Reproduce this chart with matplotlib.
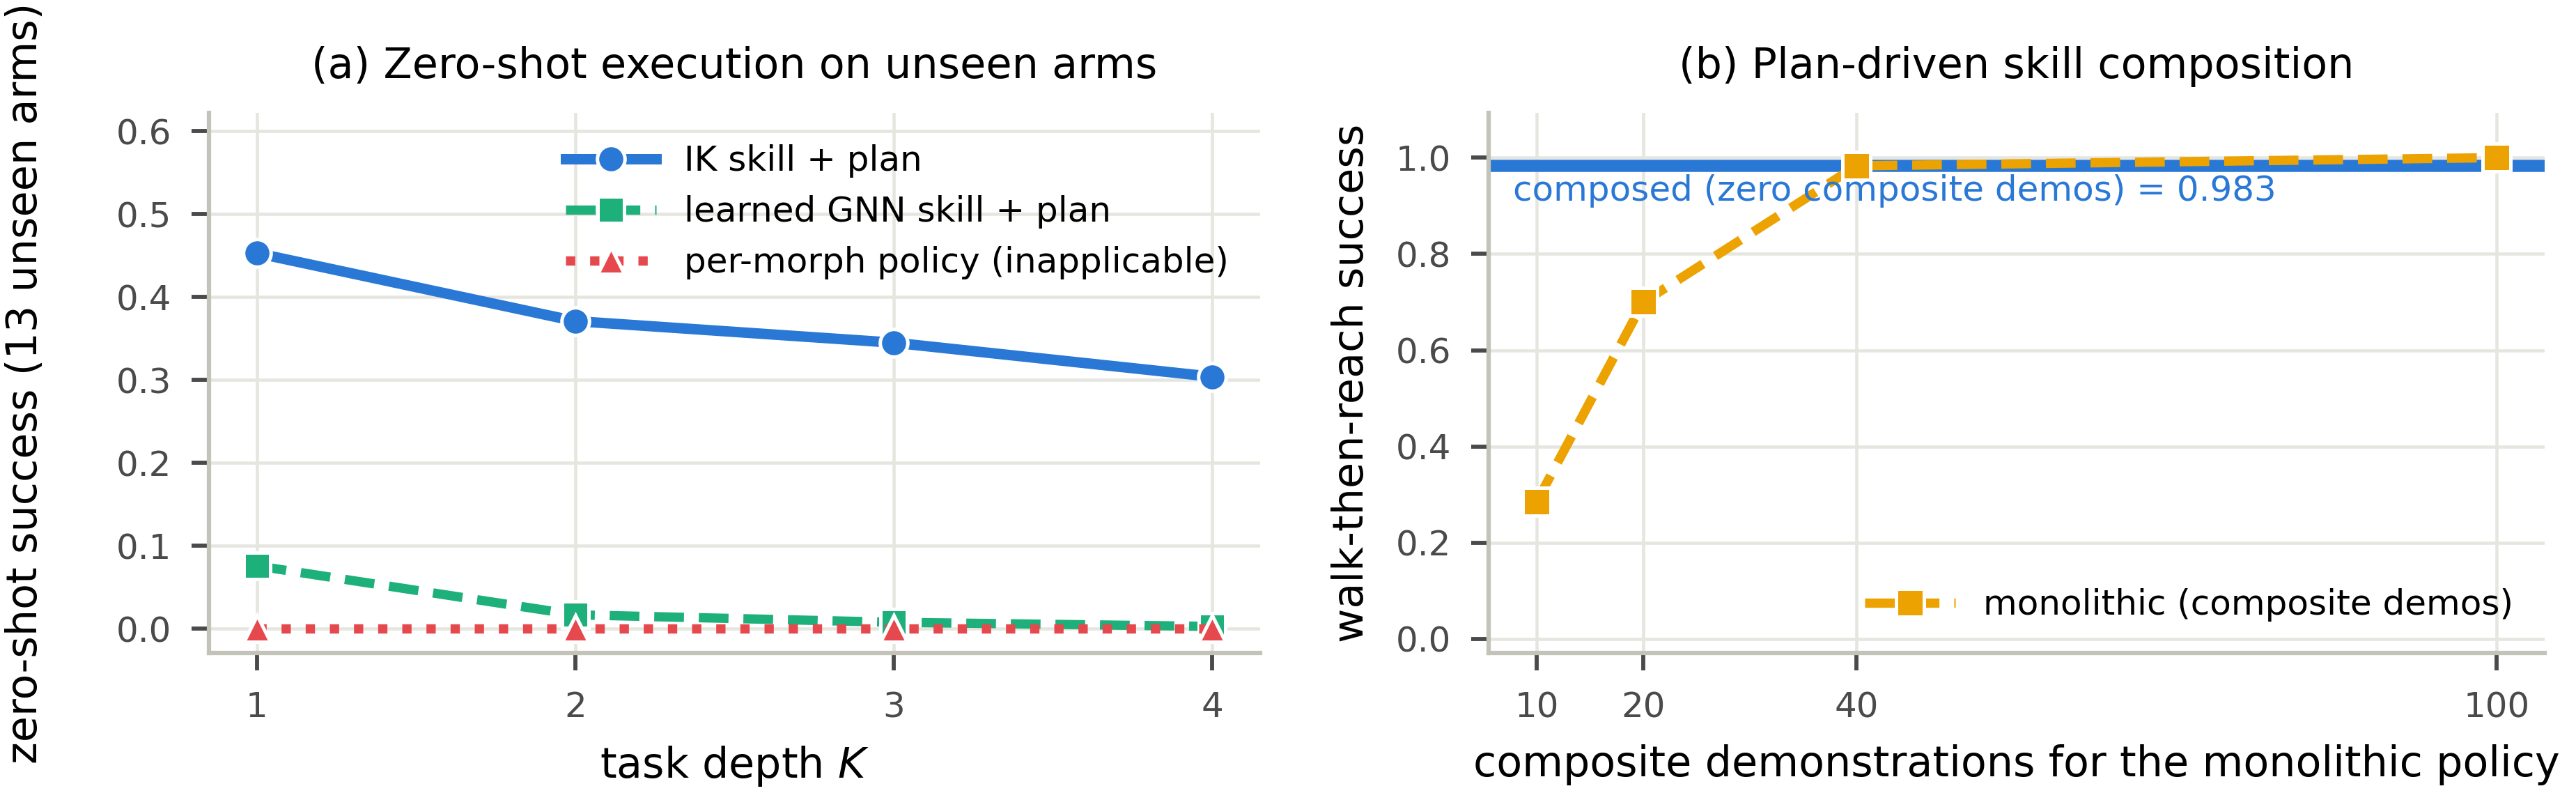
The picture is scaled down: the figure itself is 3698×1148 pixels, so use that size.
import matplotlib
matplotlib.use("Agg")
import matplotlib.pyplot as plt

# ---- data ----
depth_K = [1, 2, 3, 4]
ik_skill_plan = [0.453, 0.371, 0.345, 0.304]
gnn_skill_plan = [0.076, 0.017, 0.008, 0.003]
per_morph_policy = [0.0, 0.0, 0.0, 0.0]

demos = [10, 20, 40, 100]
monolithic = [0.285, 0.70, 0.983, 1.0]
composed_value = 0.983

BLUE = "#2a78d6"
GREEN = "#1db07a"
RED = "#e5484d"
ORANGE = "#eca200"
SPINE = "#c3c3b9"
GRID = "#e6e6e0"
TICK = "#4a4a4a"

plt.rcParams["font.family"] = ["DejaVu Sans"]

fig = plt.figure(figsize=(3698 / 300, 1148 / 300), dpi=300)
ax1 = fig.add_axes([300 / 3698, 1 - 937 / 1148, (1809 - 300) / 3698, (937 - 162) / 1148])
ax2 = fig.add_axes([2137 / 3698, 1 - 937 / 1148, (3653 - 2137) / 3698, (937 - 162) / 1148])


def style(ax):
    for s in ["top", "right"]:
        ax.spines[s].set_visible(False)
    for s in ["left", "bottom"]:
        ax.spines[s].set_color(SPINE)
        ax.spines[s].set_linewidth(1.5)
    ax.grid(True, color=GRID, linewidth=1.1)
    ax.set_axisbelow(True)
    ax.tick_params(axis="both", colors=TICK, length=6, width=1.4, labelsize=12, pad=7)
    for lab in ax.get_xticklabels() + ax.get_yticklabels():
        lab.set_color(TICK)


# ---- panel (a) ----
ax1.plot(depth_K, ik_skill_plan, color=BLUE, lw=3.6, marker="o", ms=9.5,
         mec="white", mew=1.2, label="IK skill + plan", zorder=3)
ax1.plot(depth_K, gnn_skill_plan, color=GREEN, lw=3.2, ls=(0, (3.2, 1.6)), marker="s", ms=9,
         mec="white", mew=1.2, label="learned GNN skill + plan", zorder=3)
ax1.plot(depth_K, per_morph_policy, color=RED, lw=3.2, ls=(0, (1, 1.6)), marker="^", ms=9,
         mec="white", mew=1.2, label="per-morph policy (inapplicable)", zorder=4)
ax1.set_xticks(depth_K)
ax1.set_xlim(0.85, 4.15)
ax1.set_ylim(-0.029, 0.622)
ax1.set_yticks([0.0, 0.1, 0.2, 0.3, 0.4, 0.5, 0.6])
style(ax1)
ax1.set_xlabel("task depth $K$", fontsize=14.5, labelpad=7)
ax1.set_ylabel("zero-shot success (13 unseen arms)", fontsize=14.5, labelpad=24)
ax1.set_title("(a) Zero-shot execution on unseen arms", fontsize=14.5, pad=12)
ax1.legend(loc="upper right", frameon=False, fontsize=12, handlelength=2.6,
           bbox_to_anchor=(1.0, 1.0))

# ---- panel (b) ----
ax2.axhline(composed_value, color=BLUE, lw=4.2, zorder=2)
ax2.plot(demos, monolithic, color=ORANGE, lw=3.2, ls=(0, (3.2, 1.6)), marker="s", ms=9.5,
         mec="white", mew=1.2, label="monolithic (composite demos)", zorder=3)
ax2.text(0.023, composed_value - 0.018, f"composed (zero composite demos) = {composed_value}",
         transform=ax2.get_yaxis_transform(), color=BLUE, fontsize=12, va="top", ha="left")
ax2.set_xticks(demos)
ax2.set_xlim(5.5, 104.5)
ax2.set_ylim(-0.029, 1.093)
ax2.set_yticks([0.0, 0.2, 0.4, 0.6, 0.8, 1.0])
style(ax2)
ax2.set_xlabel("composite demonstrations for the monolithic policy", fontsize=14.5, labelpad=7)
ax2.set_ylabel("walk-then-reach success", fontsize=14.5, labelpad=8)
ax2.set_title("(b) Plan-driven skill composition", fontsize=14.5, pad=12)
ax2.legend(loc="lower right", frameon=False, fontsize=12, handlelength=2.6)

fig.savefig("out.png", dpi=300)
